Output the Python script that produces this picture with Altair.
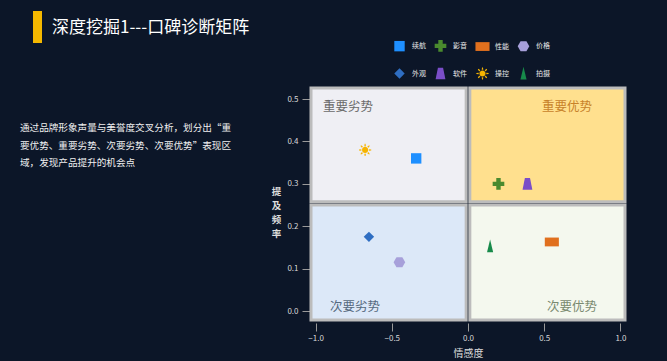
import math
import altair as alt
import pandas as pd

# ---------------- data ----------------
aspects = ["续航", "影音", "性能", "价格", "外观", "软件", "操控", "拍摄"]
sentiment = [-0.34, 0.20, 0.55, -0.45, -0.65, 0.39, -0.675, 0.145]   # 情感度
mention = [0.36, 0.30, 0.163, 0.115, 0.175, 0.30, 0.38, 0.153]        # 提及频率

quadrant_names = ["重要劣势", "重要优势", "次要劣势", "次要优势"]
x_ticks = [-1.0, -0.5, 0.0, 0.5, 1.0]
y_ticks = [0.0, 0.1, 0.2, 0.3, 0.4, 0.5]

title_text = "深度挖掘1---口碑诊断矩阵"
desc_lines = [
    "通过品牌形象声量与美誉度交叉分析，划分出“重",
    "要优势、重要劣势、次要劣势、次要优势”表现区",
    "域，发现产品提升的机会点",
]

# ---------------- styles ----------------
FONT = "Noto Sans CJK SC"
BG = "#0c1628"
X_DOM = [-1.03, 1.03]
Y_DOM = [-0.021, 0.526]
X_SPLIT, Y_SPLIT, GAP_X, GAP_Y = 0.0, 0.254, 0.012, 0.004

colors = ["#1E8FFF", "#4A8A2E", "#E0701E", "#A7A0DA",
          "#2F6EC2", "#7A4EC8", "#F6B400", "#178A4A"]
quad_fill = ["#EFEFF4", "#FFE08E", "#DCE8F8", "#F4F8EE"]
quad_label_color = ["#6A6A6A", "#C8822A", "#566A80", "#7A8A70"]


def sun_path():
    parts = ["M0.5,0A0.5,0.5 0 1,1 -0.5,0A0.5,0.5 0 1,1 0.5,0Z"]
    for k in range(8):
        a = k * math.pi / 4
        c, s = math.cos(a), math.sin(a)
        w = 0.13
        p1 = (0.62 * c - w * s, 0.62 * s + w * c)
        p2 = (1.0 * c - w * 0.6 * s, 1.0 * s + w * 0.6 * c)
        p3 = (1.0 * c + w * 0.6 * s, 1.0 * s - w * 0.6 * c)
        p4 = (0.62 * c + w * s, 0.62 * s - w * c)
        parts.append("M{:.3f},{:.3f}L{:.3f},{:.3f}L{:.3f},{:.3f}L{:.3f},{:.3f}Z".format(*p1, *p2, *p3, *p4))
    return "".join(parts)


shapes = [
    "M-0.85,-0.85H0.85V0.85H-0.85Z",                                   # square
    "M-0.36,-0.95H0.36V-0.36H0.95V0.36H0.36V0.95H-0.36V0.36H-0.95V-0.36H-0.36Z",  # cross
    "M-1.15,-0.72H1.15V0.72H-1.15Z",                                   # rect
    "M-0.95,0L-0.48,-0.82L0.48,-0.82L0.95,0L0.48,0.82L-0.48,0.82Z",  # hexagon
    "M0,-0.85L0.85,0L0,0.85L-0.85,0Z",                                 # diamond
    "M-0.42,-0.95H0.42L0.8,0.95H-0.8Z",                                # trapezoid
    sun_path(),                                                        # sun
    "M0,-1.1L0.5,1L-0.5,1Z",                                           # tall triangle
]

W, H = 314, 232
PAD_L, PAD_T = 311, 88

# ---------------- layers ----------------
quad_df = pd.DataFrame({
    "q": quadrant_names,
    "x0": [X_DOM[0], X_SPLIT + GAP_X, X_DOM[0], X_SPLIT + GAP_X],
    "x1": [X_SPLIT - GAP_X, X_DOM[1], X_SPLIT - GAP_X, X_DOM[1]],
    "y0": [Y_SPLIT + GAP_Y, Y_SPLIT + GAP_Y, Y_DOM[0], Y_DOM[0]],
    "y1": [Y_DOM[1], Y_DOM[1], Y_SPLIT - GAP_Y, Y_SPLIT - GAP_Y],
})

xscale = alt.Scale(domain=X_DOM, nice=False, zero=False)
yscale = alt.Scale(domain=Y_DOM, nice=False, zero=False)

xaxis = alt.Axis(values=x_ticks, format=".1f", title="情感度", domain=False, grid=False,
                 tickColor="#9a9a9a", tickSize=8, offset=3, labelPadding=3,
                 labelColor="#d8d8d8", labelFontSize=8, titleColor="#dddddd",
                 titleFontSize=10, titleFontWeight="normal", titlePadding=6, labelFont=FONT, titleFont=FONT)
yaxis = alt.Axis(values=y_ticks, format=".1f", title=["提", "及", "频", "率"], domain=False, grid=False,
                 tickColor="#9a9a9a", tickSize=8, offset=1, labelPadding=4,
                 labelColor="#d8d8d8", labelFontSize=8, titleColor="#dddddd",
                 titleFontSize=9.5, titleFontWeight="bold", titleAngle=0, titleAlign="center",
                 titleBaseline="top", titleX=-34, titleY=98, titleLineHeight=14,
                 labelFont=FONT, titleFont=FONT)

quads = alt.Chart(quad_df).mark_rect(stroke="#bcbcbc", strokeWidth=3).encode(
    x=alt.X("x0:Q", scale=xscale, axis=xaxis),
    x2="x1",
    y=alt.Y("y0:Q", scale=yscale, axis=yaxis),
    y2="y1",
    fill=alt.Fill("q:N", scale=alt.Scale(domain=quadrant_names, range=quad_fill), legend=None),
)

label_pos = [(12, 19, "left"), (281, 19, "right"), (19, 219, "left"), (286, 219, "right")]
quad_labels = []
for name, col, (px, py, al) in zip(quadrant_names, quad_label_color, label_pos):
    quad_labels.append(
        alt.Chart(pd.DataFrame({"t": [name]})).mark_text(
            font=FONT, fontSize=12.5, color=col, align=al, baseline="middle"
        ).encode(x=alt.value(px), y=alt.value(py), text="t:N")
    )

pts_df = pd.DataFrame({"aspect": aspects, "x": sentiment, "y": mention})
points = alt.Chart(pts_df).mark_point(filled=True, opacity=1, size=150, strokeWidth=0).encode(
    x=alt.X("x:Q", scale=xscale),
    y=alt.Y("y:Q", scale=yscale),
    color=alt.Color("aspect:N", scale=alt.Scale(domain=aspects, range=colors),
                    legend=alt.Legend(title=None, orient="none", legendX=82, legendY=-49,
                                      columns=4, direction="horizontal", columnPadding=8,
                                      rowPadding=14, labelColor="#e8e8e8", labelFontSize=7,
                                      labelFont=FONT, symbolSize=150, symbolOpacity=1,
                                      symbolStrokeWidth=0, labelOffset=6, padding=0)),
    shape=alt.Shape("aspect:N", scale=alt.Scale(domain=aspects, range=shapes)),
)

bar = alt.Chart(pd.DataFrame({"a": [0]})).mark_rect(color="#F5B800").encode(
    x=alt.value(33 - PAD_L), x2=alt.value(42 - PAD_L),
    y=alt.value(11 - PAD_T), y2=alt.value(43 - PAD_T),
)
title = alt.Chart(pd.DataFrame({"t": [title_text]})).mark_text(
    font=FONT, fontSize=17, color="#ffffff", align="left", baseline="middle"
).encode(x=alt.value(52 - PAD_L), y=alt.value(28 - PAD_T), text="t:N")

desc = alt.Chart(pd.DataFrame({"t": ["\n".join(desc_lines)]})).mark_text(
    font=FONT, fontSize=9.6, color="#f0f0f0", align="left", baseline="middle",
    lineBreak="\n", lineHeight=17.5
).encode(x=alt.value(20 - PAD_L), y=alt.value(128 - PAD_T), text="t:N")

chart = alt.layer(quads, *quad_labels, points, bar, title, desc).properties(
    width=W, height=H,
    padding={"left": PAD_L, "top": PAD_T, "right": 667 - PAD_L - W, "bottom": 361 - PAD_T - H},
    autosize=alt.AutoSizeParams(type="none"),
    background=BG,
).configure_view(stroke=None)

chart.save("out.html", embed_options={"renderer": "svg", "actions": False})
